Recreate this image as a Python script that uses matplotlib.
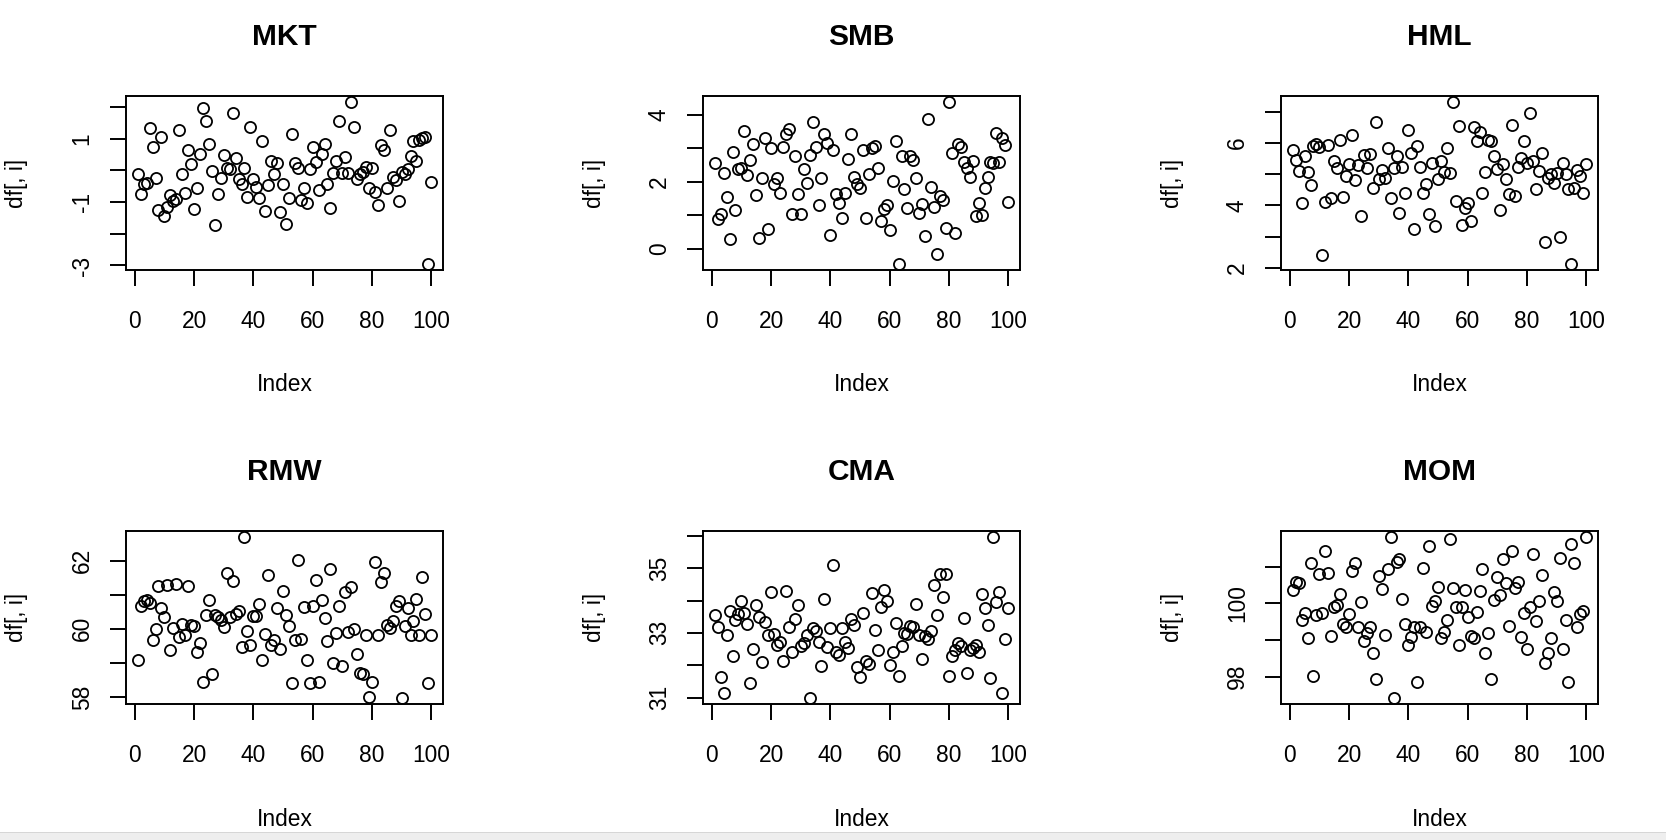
import numpy as np
import matplotlib
matplotlib.use('Agg')
import matplotlib.pyplot as plt
from matplotlib.patches import Rectangle

plt.rcParams['font.family'] = ['Liberation Sans', 'DejaVu Sans']

factors = ['MKT', 'SMB', 'HML', 'RMW', 'CMA', 'MOM']

mkt = [-0.13, -0.74, -0.42, -0.39, 1.32, 0.72, -0.25, -1.24, 1.05, -1.45,
       -1.16, -0.78, -0.97, -0.92, 1.28, -0.11, -0.70, 0.65, 0.19, -1.23,
       -0.57, 0.53, 1.96, 1.56, 0.82, -0.02, -1.74, -0.74, -0.23, 0.48,
       0.08, 0.03, 1.82, 0.38, -0.28, -0.42, 0.08, -0.84, 1.35, -0.28,
       -0.53, -0.86, 0.91, -1.28, -0.46, 0.29, -0.13, 0.24, -1.32, -0.42,
       -1.70, -0.86, 1.14, 0.24, 0.08, -0.95, -0.57, -1.02, 0.03, 0.75,
       0.27, -0.63, 0.51, 0.82, -0.44, -1.18, -0.07, 0.29, 1.56, -0.07,
       0.42, -0.07, 2.14, 1.35, -0.28, -0.13, -0.04, 0.11, -0.57, 0.06,
       -0.67, -1.09, 0.79, 0.63, -0.57, 1.26, -0.21, -0.32, -0.97, -0.04,
       -0.13, 0.03, 0.45, 0.91, 0.29, 0.95, 1.03, 1.05, -2.94, -0.37]

smb = [2.55, 0.87, 1.02, 2.27, 1.54, 0.27, 2.89, 1.15, 2.37, 2.40,
       3.52, 2.20, 2.64, 3.12, 1.59, 0.32, 2.12, 3.32, 0.59, 3.00,
       1.94, 2.10, 1.65, 3.04, 3.42, 3.57, 1.02, 2.77, 1.62, 1.02,
       2.39, 1.97, 2.80, 3.79, 3.04, 1.30, 2.12, 3.42, 3.17, 0.40,
       2.94, 1.64, 1.37, 0.90, 1.67, 2.67, 3.44, 2.14, 1.94, 1.80,
       2.94,
       0.92, 2.24, 3.02, 3.07, 2.42, 0.82, 1.17, 1.30, 0.55, 2.02,
       3.22, -0.45, 2.77, 1.79, 1.22, 2.77, 2.64, 2.10, 1.07, 1.32,
       0.37, 3.87, 1.84, 1.24, -0.16, 1.57, 1.45, 0.60, 4.37, 2.85,
       0.45, 3.14, 3.04, 2.60, 2.42, 2.14, 2.62, 0.97, 1.37, 1.00,
       1.82, 2.15, 2.59, 2.55, 3.45, 2.59, 3.30, 3.09, 1.40]

hml = [5.77, 5.45, 5.10, 4.09, 5.59, 5.08, 4.66, 5.91, 5.98, 5.88,
       2.40, 4.12, 5.93, 4.25, 5.43, 5.19, 6.10, 4.28, 4.94, 5.34,
       6.26, 4.82, 5.29, 3.66, 5.62, 5.19, 5.64, 4.57, 6.68, 4.84,
       5.13, 4.87, 5.85, 4.23, 5.21, 5.59, 3.75, 5.23, 4.39, 6.42,
       5.69, 3.26, 5.91, 5.23, 4.41, 4.68, 3.73, 5.37, 3.34, 4.84,
       5.43, 5.08,
       5.85, 5.05, 7.30, 4.14, 6.53, 3.39, 3.93, 4.09, 3.50, 6.50,
       6.05, 6.36, 4.39, 5.08, 6.10, 6.05, 5.59, 5.16, 3.84, 5.32,
       4.84, 4.36, 6.57, 4.30, 5.23, 5.53, 6.05, 5.37, 6.96, 5.43,
       4.52, 5.10, 5.67, 2.84, 4.89, 5.02, 4.73, 5.05, 3.00, 5.35,
       5.00, 4.54, 2.14, 4.57, 5.13, 4.94, 4.41, 5.32]

rmw = [59.08, 60.68, 60.80, 60.85, 60.77, 59.66, 59.98, 61.24, 60.61, 60.35,
       61.29, 59.37, 60.02, 61.32, 59.76, 60.15, 59.83, 61.24, 60.12, 60.07,
       59.32, 59.59, 58.44, 60.39, 60.85, 58.66, 60.39, 60.35, 60.25, 60.04,
       61.63, 60.34, 61.41, 60.43, 60.51, 59.47, 62.68, 59.93, 59.51, 60.38,
       60.38, 60.73, 59.08, 59.86, 61.58, 59.51, 59.66, 60.61, 59.41, 61.12,
       60.39,
       60.07, 58.42, 59.66, 62.02, 59.71, 60.64, 59.08, 58.42, 60.68, 61.44,
       58.45, 60.85, 60.32, 59.63, 61.75, 59.00, 59.88, 60.66, 58.92, 61.09,
       59.90, 61.22, 60.00, 59.27, 58.69, 58.66, 59.83, 58.00, 58.45, 61.95,
       59.83, 61.36, 61.65, 60.12, 60.02, 60.22, 60.68, 60.80, 57.98, 60.07,
       60.61, 59.83, 60.24, 60.88, 59.83, 61.53, 60.44, 58.42, 59.81]

cma = [33.55, 33.17, 31.64, 31.13, 32.94, 33.68, 32.30, 33.40, 33.58, 33.98,
       33.60, 33.27, 31.44, 32.51, 33.86, 33.48, 32.10, 33.35, 32.94, 34.27,
       32.97, 32.61, 32.73, 32.12, 34.29, 33.17, 32.40, 33.42, 33.86, 32.58,
       32.68, 32.94, 31.00, 33.16, 33.07, 32.73, 31.99, 34.06, 32.56, 33.14,
       35.11, 32.40, 32.33, 33.16, 32.73, 32.53, 33.42, 33.24, 31.94, 31.64,
       33.62,
       32.12, 32.05, 34.23, 33.09, 32.48, 33.79, 34.32, 33.99, 32.00, 32.40,
       33.32, 31.66, 32.60, 32.99, 32.96, 33.21, 33.17, 33.89, 32.94, 32.19,
       32.89, 32.81, 33.06, 34.49, 33.55, 34.81, 34.11, 34.81, 31.66, 32.30,
       32.46, 32.70, 32.58, 33.47, 31.77, 32.48, 32.53, 32.63, 32.40, 34.21,
       33.76, 33.24, 31.59, 35.95, 33.96, 34.27, 31.13, 32.81, 33.78]

mom = [100.36, 100.59, 100.56, 99.55, 99.75, 99.05, 101.09, 98.03, 99.68, 100.80,
       99.75, 101.44, 100.84, 99.11, 99.89, 99.95, 100.25, 99.45, 99.36, 99.71,
       100.89, 101.11, 99.36, 100.05, 98.98, 99.20, 99.36, 98.65, 97.95, 100.75,
       100.38, 99.14, 100.95, 101.80, 97.43, 101.14, 101.20, 100.12, 99.45, 98.86,
       99.07, 99.35, 97.85, 99.35, 100.97, 99.21, 101.56, 99.93, 100.07, 100.45,
       99.05, 99.21, 99.55,
       101.77, 100.41, 99.89, 98.86, 99.89, 100.36, 99.62, 99.11, 99.05, 99.77,
       100.35, 100.95, 98.64, 99.18, 97.93, 100.09, 100.71, 100.23, 101.21, 100.56,
       99.38, 101.44, 100.41, 100.59, 99.07, 99.73, 98.75, 99.89, 101.36, 99.53,
       100.06, 100.77, 98.38, 98.64, 99.05, 100.32, 100.06, 101.23, 98.75, 99.55,
       97.85, 101.62, 101.09, 99.35, 99.71, 99.80, 101.80]

series = [mkt, smb, hml, rmw, cma, mom]

# y-axis ticks (all ticks) and which of them carry a label
yticks = [[-3, -2, -1, 0, 1, 2],
          [0, 1, 2, 3, 4],
          [2, 3, 4, 5, 6, 7],
          [58, 59, 60, 61, 62],
          [31, 32, 33, 34, 35, 36],
          [98, 99, 100, 101]]
ylabeled = [[-3, -1, 1],
            [0, 2, 4],
            [2, 4, 6],
            [58, 60, 62],
            [31, 33, 35],
            [98, 100]]
xticks = [0, 20, 40, 60, 80, 100]

W, H = 1666, 840
fig = plt.figure(figsize=(W / 100, H / 100), dpi=100)

col_left = [126, 703, 1281]
col_w = 317
row_top = [96, 531]
row_h = [174, 173]

FS = 16.4
for k, (name, vals) in enumerate(zip(factors, series)):
    r, c = divmod(k, 3)
    ax = fig.add_axes([col_left[c] / W, 1 - (row_top[r] + row_h[r]) / H,
                       col_w / W, row_h[r] / H])
    x = np.arange(1, len(vals) + 1)
    ax.plot(x, vals, linestyle='none', marker='o', mfc='none', mec='black',
            ms=8.0, mew=1.3)
    n = len(vals)
    ax.set_xlim(1 - 0.04 * (n - 1), n + 0.04 * (n - 1))
    lo, hi = min(vals), max(vals)
    pad = 0.04 * (hi - lo)
    ax.set_ylim(lo - pad, hi + pad)
    ax.set_xticks(xticks)
    ax.set_xticklabels([str(t) for t in xticks])
    ax.set_yticks(yticks[k])
    ax.set_yticklabels([str(t) if t in ylabeled[k] else '' for t in yticks[k]],
                       rotation=90, va='center', ha='center')
    for s in ax.spines.values():
        s.set_linewidth(1.4)
    ax.tick_params(axis='both', direction='out', length=11.5, width=1.4,
                   labelsize=FS)
    ax.tick_params(axis='x', pad=17)
    ax.tick_params(axis='y', pad=20)

    cx = (col_left[c] + col_w / 2) / W
    fig.text(cx, 1 - (row_top[r] - 59) / H, name, ha='center', va='center',
             fontsize=21.5, fontweight='bold')
    fig.text(cx, 1 - (row_top[r] + row_h[r] + 115) / H, 'Index',
             ha='center', va='center', fontsize=FS)
    fig.text((col_left[c] - 109) / W, 1 - (row_top[r] + row_h[r] / 2) / H,
             'df[, i]', ha='center', va='center', rotation=90, fontsize=FS)

# window edge strip at the bottom of the screenshot
fig.patches.append(Rectangle((0, 0), 1, 7 / H, transform=fig.transFigure,
                             facecolor='#eeeeee', edgecolor='none'))
fig.patches.append(Rectangle((0, 7 / H), 1, 1 / H, transform=fig.transFigure,
                             facecolor='#d6d6d6', edgecolor='none'))

fig.savefig('out.png', dpi=100, facecolor='white')
